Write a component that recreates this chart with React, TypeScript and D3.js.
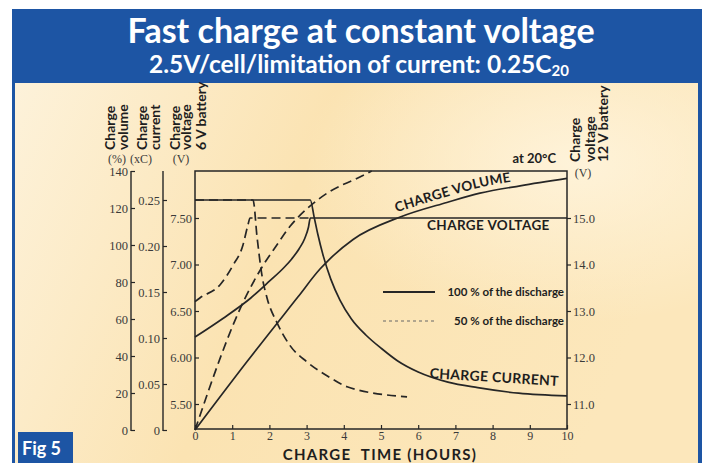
import React, { useEffect, useRef } from "react";
import * as d3 from "d3";

const hours = [0, 1, 2, 3, 4, 5, 6, 7, 8, 9, 10];
const volumeTicks = [0, 20, 40, 60, 80, 100, 120, 140];
const currentTicks = [0, 0.05, 0.1, 0.15, 0.2, 0.25];
const voltage6Ticks = [5.5, 6, 6.5, 7, 7.5];
const voltage12Ticks = [11, 12, 13, 14, 15];

// [hours, value]
const volumeFull: [number, number][] = [
	[0, 0], [1.4, 37], [2.77, 72], [3.36, 87], [3.6, 92], [4.25, 103],
	[5.5, 115], [6.77, 123], [7.66, 128], [8.74, 132], [10, 136],
];
const volumeHalf: [number, number][] = [
	[0, 0], [1.34, 71], [1.8, 88], [2.2, 100], [2.55, 110], [2.82, 116],
	[3.09, 121], [3.63, 129], [4.35, 136], [4.75, 140],
];
const voltageFull: [number, number][] = [
	[0, 6.22], [0.75, 6.42], [1.5, 6.64], [2.0, 6.82], [2.4, 6.97],
	[2.6, 7.06], [2.8, 7.17], [2.95, 7.28], [3.05, 7.4], [3.1, 7.5], [10, 7.5],
];
const voltageHalf: [number, number][] = [
	[0, 6.6], [0.13, 6.64], [0.67, 6.78], [1.02, 6.99], [1.29, 7.21],
	[1.42, 7.42], [1.48, 7.5], [3.1, 7.5],
];
const currentFull: [number, number][] = [
	[0, 0.25], [3.1, 0.25], [3.2, 0.232], [3.3, 0.213], [3.45, 0.189],
	[3.65, 0.164], [3.9, 0.141], [4.2, 0.121], [4.6, 0.103], [5.0, 0.089],
	[5.45, 0.075], [6.0, 0.063], [6.8, 0.052], [7.6, 0.046], [8.7, 0.040],
	[10, 0.037],
];
const currentHalf: [number, number][] = [
	[0, 0.25], [1.56, 0.25], [1.67, 0.209], [1.8, 0.168], [1.94, 0.143],
	[2.2, 0.117], [2.55, 0.092], [3.01, 0.074], [3.63, 0.057], [4.09, 0.047],
	[5.7, 0.036],
];

const BLUE = "#1d55a4";
const INK = "#262626";
const SANS = "Lato, 'Open Sans', sans-serif";
const SERIF = "'Liberation Serif', 'DejaVu Serif', serif";

const App: React.FC = () => {
	const svgRef = useRef<SVGSVGElement>(null);

	useEffect(() => {
		if (!svgRef.current) return;
		const svg = d3.select(svgRef.current);
		svg.selectAll("*").remove();

		const defs = svg.append("defs");
		const bg = defs
			.append("linearGradient")
			.attr("id", "bg")
			.attr("x1", 0)
			.attr("x2", 1)
			.attr("y1", 0)
			.attr("y2", 0.25);
		bg.append("stop").attr("offset", 0).attr("stop-color", "#fdf2da");
		bg.append("stop").attr("offset", 0.45).attr("stop-color", "#fbe3b2");
		bg.append("stop").attr("offset", 1).attr("stop-color", "#fce7bb");
		const glow = defs
			.append("radialGradient")
			.attr("id", "glow")
			.attr("cx", 0.82)
			.attr("cy", 0.2)
			.attr("r", 0.4);
		glow.append("stop").attr("offset", 0).attr("stop-color", "#fff5df").attr("stop-opacity", 0.85);
		glow.append("stop").attr("offset", 1).attr("stop-color", "#fff5df").attr("stop-opacity", 0);

		// frame and panel
		svg.append("rect").attr("width", 706).attr("height", 463).attr("fill", "#fff");
		svg.append("rect").attr("x", 12).attr("y", 9).attr("width", 690).attr("height", 470).attr("fill", BLUE);
		svg.append("rect").attr("x", 15).attr("y", 83).attr("width", 683).attr("height", 400).attr("fill", "url(#bg)");
		svg.append("rect").attr("x", 15).attr("y", 83).attr("width", 683).attr("height", 400).attr("fill", "url(#glow)");

		svg.append("text")
			.attr("x", 361).attr("y", 43)
			.attr("text-anchor", "middle")
			.attr("font-family", SANS).attr("font-weight", 700).attr("font-size", 34)
			.attr("fill", "#fff")
			.text("Fast charge at constant voltage");
		const sub = svg.append("text")
			.attr("x", 359).attr("y", 73)
			.attr("text-anchor", "middle")
			.attr("font-family", SANS).attr("font-weight", 700).attr("font-size", 24.5)
			.attr("fill", "#fff");
		sub.append("tspan").text("2.5V/cell/limitation of current: 0.25C");
		sub.append("tspan").attr("font-size", 15).attr("dy", 3).text("20");

		// Fig label
		svg.append("rect").attr("x", 18).attr("y", 432).attr("width", 55).attr("height", 40).attr("fill", BLUE);
		svg.append("text")
			.attr("x", 22).attr("y", 455)
			.attr("font-family", SANS).attr("font-weight", 700).attr("font-size", 18)
			.attr("fill", "#fff")
			.text("Fig 5");

		// scales
		const x = d3.scaleLinear().domain([0, 10]).range([195, 567]);
		const yVol = d3.scaleLinear().domain([0, 140]).range([430, 171]);
		const yCur = d3.scaleLinear().domain([0, 0.25]).range([430, 200]);
		const yV6 = d3.scaleLinear().domain([5.5, 7.5]).range([404, 218]);
		const yV12 = d3.scaleLinear().domain([11, 15]).range([404, 218]);

		const g = svg.append("g");

		// plot frame
		g.append("rect")
			.attr("x", x(0)).attr("y", 171)
			.attr("width", x(10) - x(0)).attr("height", 429 - 171)
			.attr("fill", "none").attr("stroke", INK).attr("stroke-width", 1.5);

		const styleAxis = (sel: d3.Selection<SVGGElement, unknown, null, undefined>) => {
			sel.select(".domain").remove();
			sel.selectAll("line").attr("stroke", INK).attr("stroke-width", 1.2);
			sel.selectAll("text")
				.attr("font-family", SERIF).attr("font-size", 12.5).attr("fill", "#3a3a3a");
		};

		// left axes lines
		[131, 163].forEach((px) =>
			g.append("line")
				.attr("x1", px).attr("x2", px).attr("y1", 171).attr("y2", 431)
				.attr("stroke", INK).attr("stroke-width", 1.4)
		);

		g.append("g")
			.attr("transform", "translate(131,0)")
			.call(d3.axisLeft(yVol).tickValues(volumeTicks).tickSize(-4).tickPadding(3).tickFormat(d3.format("d")))
			.call(styleAxis);
		g.append("g")
			.attr("transform", "translate(163,0)")
			.call(d3.axisLeft(yCur).tickValues(currentTicks).tickSize(-4).tickPadding(3)
				.tickFormat((d) => (+d === 0 ? "0" : d3.format(".2f")(+d))))
			.call(styleAxis);
		g.append("g")
			.attr("transform", "translate(195,0)")
			.call(d3.axisLeft(yV6).tickValues(voltage6Ticks).tickSize(-4).tickPadding(3).tickFormat(d3.format(".2f")))
			.call(styleAxis);
		g.append("g")
			.attr("transform", "translate(567,0)")
			.call(d3.axisRight(yV12).tickValues(voltage12Ticks).tickSize(4).tickPadding(2).tickFormat(d3.format(".1f")))
			.call(styleAxis);
		g.append("g")
			.attr("transform", "translate(0,429)")
			.call(d3.axisBottom(x).tickValues(hours).tickSize(-4).tickPadding(2).tickFormat(d3.format("d")))
			.call(styleAxis)
			.call((s) => s.selectAll("text").attr("font-size", 12));

		// axis titles (rotated)
		const vLabels: [string, number, number][] = [
			["Charge", 115, 150], ["volume", 128, 150],
			["Charge", 147, 150], ["current", 160, 150],
			["Charge", 180, 150], ["voltage", 191, 150], ["6 V battery", 206, 150],
			["Charge", 580, 162], ["voltage", 595, 162], ["12 V battery", 608, 162],
		];
		vLabels.forEach(([t, px, py]) =>
			g.append("text")
				.attr("transform", `translate(${px},${py}) rotate(-90)`)
				.attr("font-family", SANS).attr("font-weight", 700).attr("font-size", 14)
				.attr("fill", "#1e1e1e")
				.text(t)
		);
		const units: [string, number, number][] = [
			["(%)", 117, 163], ["(xC)", 141, 163], ["(V)", 181, 163], ["(V)", 583, 177],
		];
		units.forEach(([t, px, py]) =>
			g.append("text")
				.attr("x", px).attr("y", py)
				.attr("text-anchor", "middle")
				.attr("font-family", SERIF).attr("font-size", 12).attr("fill", "#3a3a3a")
				.text(t)
		);

		// curves
		const mk = (ys: d3.ScaleLinear<number, number>) =>
			d3.line<[number, number]>()
				.x((d) => x(d[0]))
				.y((d) => ys(d[1]))
				.curve(d3.curveMonotoneX);

		const series: [[number, number][], d3.ScaleLinear<number, number>, boolean][] = [
			[volumeHalf, yVol, true],
			[voltageHalf, yV6, true],
			[currentHalf, yCur, true],
			[volumeFull, yVol, false],
			[voltageFull, yV6, false],
			[currentFull, yCur, false],
		];
		series.forEach(([data, ys, dashed]) =>
			g.append("path")
				.attr("d", mk(ys)(data))
				.attr("fill", "none")
				.attr("stroke", INK)
				.attr("stroke-width", 1.7)
				.attr("stroke-dasharray", dashed ? "9,5" : null)
		);

		// curve labels
		defs.append("path")
			.attr("id", "volLabel")
			.attr("d", mk(yVol)(volumeFull.filter((d) => d[0] >= 5.4 && d[0] <= 9)))
			.attr("transform", "translate(-3,-5)");
		g.append("text")
			.attr("font-family", SANS).attr("font-weight", 700).attr("font-size", 13.5)
			.attr("letter-spacing", 0.3)
			.attr("fill", "#1e1e1e")
			.append("textPath")
			.attr("href", "#volLabel")
			.text("CHARGE VOLUME");

		g.append("text")
			.attr("x", 427).attr("y", 230)
			.attr("font-family", SANS).attr("font-weight", 700).attr("font-size", 13.5)
			.attr("letter-spacing", 0.4)
			.attr("fill", "#1e1e1e")
			.text("CHARGE VOLTAGE");

		g.append("text")
			.attr("transform", "translate(494,382) rotate(3.5)")
			.attr("text-anchor", "middle")
			.attr("font-family", SANS).attr("font-weight", 700).attr("font-size", 14)
			.attr("letter-spacing", 0.3)
			.attr("fill", "#1e1e1e")
			.text("CHARGE CURRENT");

		g.append("text")
			.attr("x", 556).attr("y", 163)
			.attr("text-anchor", "end")
			.attr("font-family", SANS).attr("font-weight", 700).attr("font-size", 13)
			.attr("fill", "#1e1e1e")
			.text("at 20°C");

		// legend
		g.append("line")
			.attr("x1", 383).attr("x2", 435).attr("y1", 292).attr("y2", 292)
			.attr("stroke", INK).attr("stroke-width", 1.8);
		g.append("line")
			.attr("x1", 383).attr("x2", 435).attr("y1", 321).attr("y2", 321)
			.attr("stroke", "#666").attr("stroke-width", 1).attr("stroke-dasharray", "3,3");
		[["100 % of the discharge", 296], ["50 % of the discharge", 325]].forEach(([t, py]) =>
			g.append("text")
				.attr("x", 564).attr("y", py as number)
				.attr("text-anchor", "end")
				.attr("font-family", SANS).attr("font-weight", 700).attr("font-size", 11.5)
				.attr("fill", "#1e1e1e")
				.text(t as string)
		);

		// x axis title
		g.append("text")
			.attr("x", 380).attr("y", 460)
			.attr("text-anchor", "middle")
			.attr("font-family", SANS).attr("font-weight", 700).attr("font-size", 15)
			.attr("letter-spacing", 1.3)
			.attr("fill", "#1e1e1e")
			.text("CHARGE\u00a0\u00a0TIME (HOURS)");
	}, []);

	return (
		<svg
			ref={svgRef}
			width={706}
			height={463}
			style={{ position: "absolute", left: 0, top: 0 }}
		/>
	);
};

export default App;
